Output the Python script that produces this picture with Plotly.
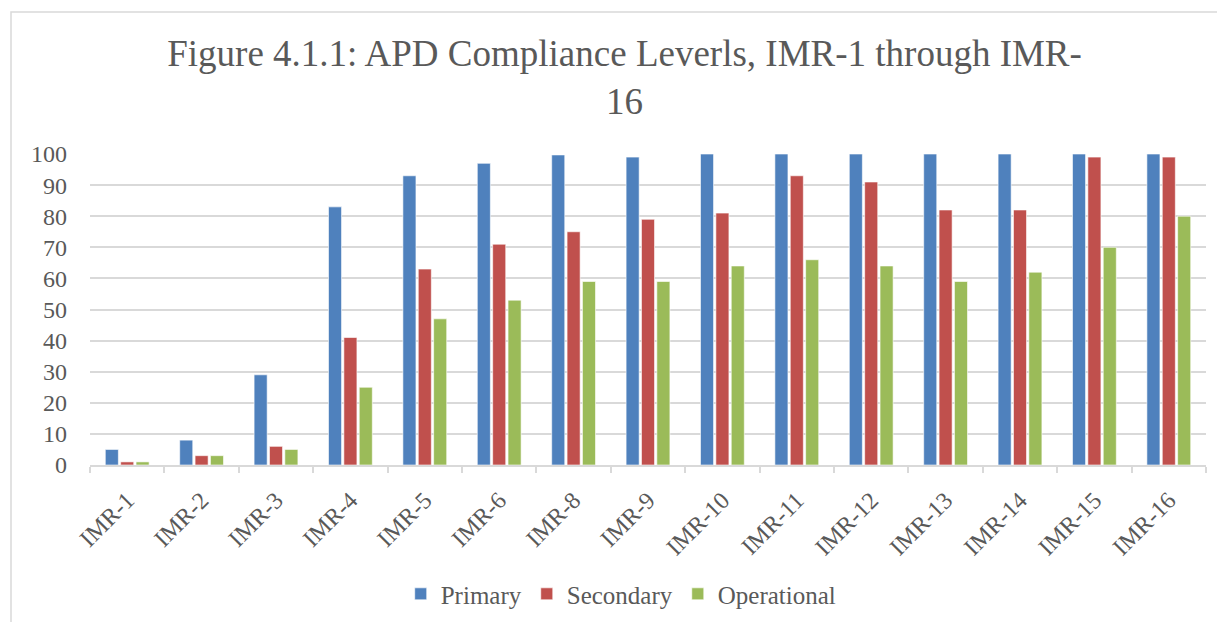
import plotly.graph_objects as go

categories = ["IMR-1", "IMR-2", "IMR-3", "IMR-4", "IMR-5", "IMR-6", "IMR-8", "IMR-9",
              "IMR-10", "IMR-11", "IMR-12", "IMR-13", "IMR-14", "IMR-15", "IMR-16"]
primary = [5, 8, 29, 83, 93, 97, 99.7, 99, 100, 100, 100, 100, 100, 100, 100]
secondary = [1, 3, 6, 41, 63, 71, 75, 79, 81, 93, 91, 82, 82, 99, 99]
operational = [1, 3, 5, 25, 47, 53, 59, 59, 64, 66, 64, 59, 62, 70, 80]
y_ticks = [0, 10, 20, 30, 40, 50, 60, 70, 80, 90, 100]

FONT = "Liberation Serif"
TXT = "#595959"

fig = go.Figure()
for name, vals, col in [("Primary", primary, "#4F81BD"),
                        ("Secondary", secondary, "#C0504D"),
                        ("Operational", operational, "#9BBB59")]:
    fig.add_trace(go.Bar(x=categories, y=vals, name=name,
                         marker=dict(color=col, line=dict(color="rgba(255,255,255,0.6)", width=1))))

fig.update_layout(
    width=1217, height=614,
    paper_bgcolor="white", plot_bgcolor="white",
    margin=dict(l=82, r=19, t=146, b=157, autoexpand=False),
    barmode="group", bargap=0.38, bargroupgap=0.15,
    font=dict(family=FONT, color=TXT, size=20),
    title=dict(text="Figure 4.1.1: APD Compliance Leverls, IMR-1 through IMR-<br>16",
               x=0.479, xref="paper", xanchor="center", y=0.905, yanchor="middle",
               font=dict(family=FONT, size=37, color=TXT), automargin=False),
    legend=dict(orientation="h", x=0.476, xanchor="center", y=-0.415, yanchor="middle",
                font=dict(family=FONT, size=25, color=TXT), itemwidth=30, traceorder="normal"),
    showlegend=True,
)
fig.update_xaxes(type="category", showline=True, linecolor="#D9D9D9", linewidth=1.5,
                 ticks="outside", tickson="boundaries", tickcolor="#D9D9D9", ticklen=6,
                 tickwidth=1.5, tickangle=-45, showgrid=False, automargin=False,
                 ticklabelstandoff=10,
                 tickfont=dict(family=FONT, size=24, color=TXT))
fig.update_yaxes(range=[0, 100], tickvals=y_ticks, showgrid=True, gridcolor="#D9D9D9",
                 gridwidth=1.5, zeroline=False, showline=False, ticks="", automargin=False,
                 ticklabelstandoff=22, tickfont=dict(family=FONT, size=24, color=TXT))

fig.add_shape(type="rect", xref="paper", yref="paper",
              x0=(11 - 90) / 1116, x1=(1218 - 90) / 1116, y0=-0.7, y1=(465 - 12) / 311,
              line=dict(color="#D9D9D9", width=1.5), fillcolor="rgba(0,0,0,0)", layer="below")

fig.write_html("out.html")
